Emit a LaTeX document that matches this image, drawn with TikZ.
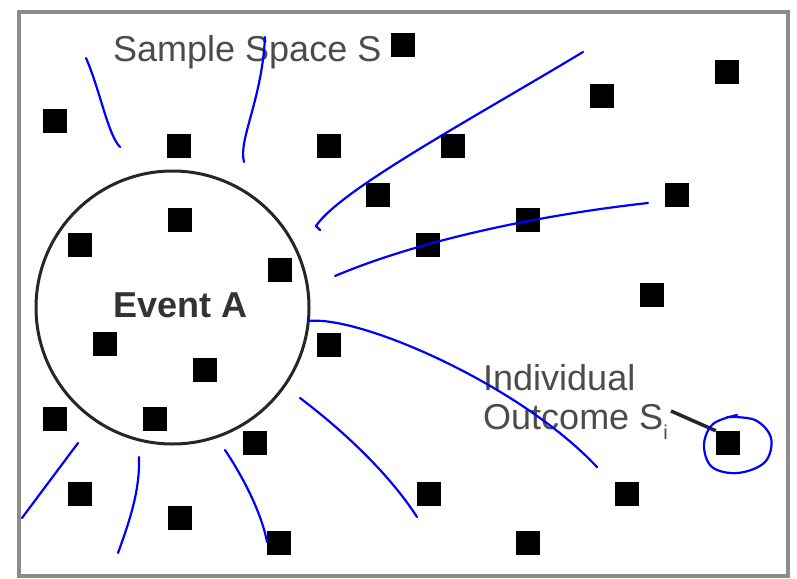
\documentclass[tikz,border=0pt]{standalone}
\usepackage{fontspec}
\setmainfont{Liberation Sans}
\begin{document}
\begin{tikzpicture}[x=1pt,y=-1pt,
  pt/.style={fill=black,minimum size=24pt,inner sep=0pt,draw=none},
  lbl/.style={anchor=base west,inner sep=0pt,text=black!70,font=\fontsize{36}{40}\selectfont},
  ink/.style={draw=blue,line width=2.2pt,line cap=round,line join=round},
]
\useasboundingbox (0,0) rectangle (797,578);
\fill[white] (0,0) rectangle (797,578);
% frame
\draw[draw=black!45,line width=4pt] (19,12) rectangle (788,576);
% event circle
\node[draw=black!85,line width=3pt,circle,minimum size=273pt,inner sep=0pt] (A) at (172.5,307.5) {};
% outcomes
\node[pt] (s1) at (403,45) {};
\node[pt] (s2) at (727,72) {};
\node[pt] (s3) at (602,96) {};
\node[pt] (s4) at (55,121) {};
\node[pt] (s5) at (179,146) {};
\node[pt] (s6) at (329,146) {};
\node[pt] (s7) at (453,146) {};
\node[pt] (s8) at (378,195) {};
\node[pt] (s9) at (677,195) {};
\node[pt] (s10) at (180,220) {};
\node[pt] (s11) at (528,220) {};
\node[pt] (s12) at (80,245) {};
\node[pt] (s13) at (428,245) {};
\node[pt] (s14) at (280,270) {};
\node[pt] (s15) at (652,295) {};
\node[pt] (s16) at (329,345) {};
\node[pt] (s17) at (105,344) {};
\node[pt] (s18) at (205,370) {};
\node[pt] (s19) at (55,419) {};
\node[pt] (s20) at (155,419) {};
\node[pt] (s21) at (255,443) {};
\node[pt] (s22) at (728,443) {};
\node[pt] (s23) at (80,494) {};
\node[pt] (s24) at (429,494) {};
\node[pt] (s25) at (627,494) {};
\node[pt] (s26) at (180,518) {};
\node[pt] (s27) at (279,543) {};
\node[pt] (s28) at (528,543) {};
% labels
\node[lbl] (tS) at (113,61) {Sample Space S};
\node[lbl,text=black!80,font=\fontsize{36}{40}\selectfont\bfseries] (tA) at (113,317) {Event A};
\node[lbl] (tI1) at (483,390) {Individual};
\node[lbl] (tI2) at (483,429) {Outcome S\raisebox{-0.3em}{\fontsize{20}{20}\selectfont i}};
\coordinate (lk) at (671,411);
\draw[black!85,line width=3.5pt] (lk) -- (s22.north west);
% blue hand strokes
\draw[ink] (86,58) .. controls (100,90) and (108,135) .. (120,147);
\draw[ink] (265,37) .. controls (262,100) and (238,140) .. (244,162);
\draw[ink] (583,52) .. controls (470,120) and (340,190) .. (316,226) -- (320,230);
\draw[ink] (648,203) .. controls (540,215) and (420,240) .. (335,276);
\draw[ink] (308,321) .. controls (360,315) and (520,385) .. (597,467);
\draw[ink] (300,398) .. controls (345,432) and (390,475) .. (417,517);
\draw[ink] (78,443) -- (22,518);
\draw[ink] (139,457) .. controls (140,490) and (130,520) .. (118,553);
\draw[ink] (225,450) .. controls (245,480) and (262,515) .. (267,542);
\draw[ink] plot[smooth,tension=0.6] coordinates {(727,417) (755,420) (771,438) (765,462) (738,473) (712,467) (704,445) (713,424) (737,415)};
\end{tikzpicture}
\end{document}
